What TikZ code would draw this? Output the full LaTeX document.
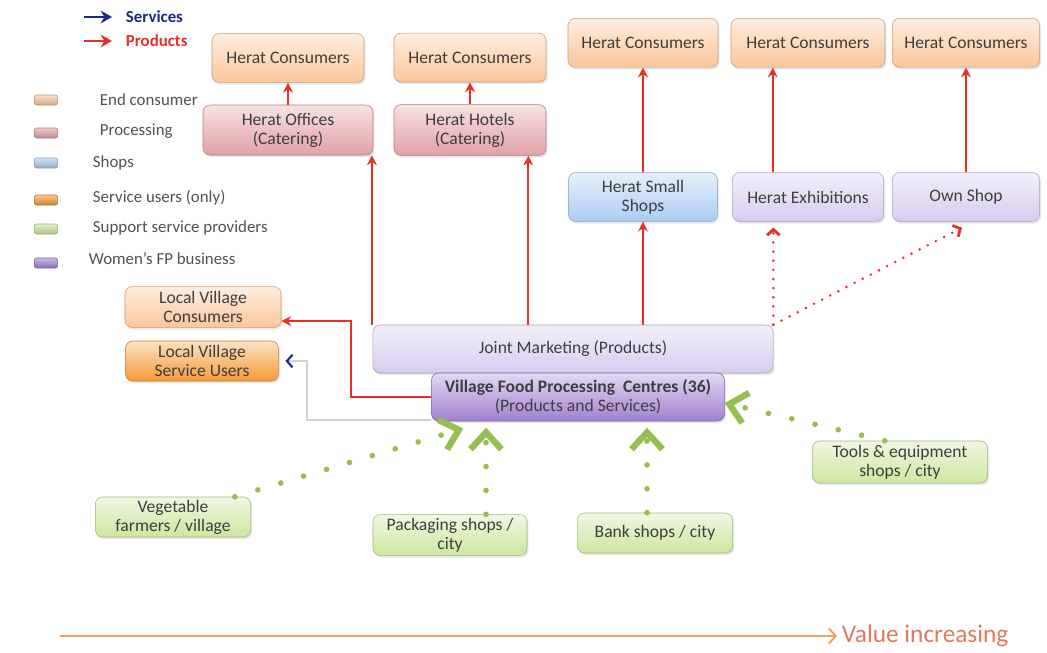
\documentclass[tikz,border=0pt]{standalone}
\usepackage{fontspec}
\setmainfont{Carlito}
\definecolor{EndCons}{RGB}{250,198,155}
\definecolor{Proc}{RGB}{226,160,165}
\definecolor{Shop}{RGB}{172,204,242}
\definecolor{SrvUser}{RGB}{247,155,55}
\definecolor{Support}{RGB}{205,230,160}
\definecolor{WomenFP}{RGB}{214,204,238}
\definecolor{WomenFPDark}{RGB}{160,128,208}
\definecolor{ProdRed}{RGB}{232,48,36}
\definecolor{ServBlue}{RGB}{28,40,140}
\definecolor{ServGray}{RGB}{205,210,220}
\definecolor{SuppGreen}{RGB}{150,190,80}
\definecolor{ValueLine}{RGB}{242,160,90}
\definecolor{ValueText}{RGB}{226,120,96}
\definecolor{BoxText}{RGB}{62,62,62}
\usepackage{tikz}
\usetikzlibrary{arrows.meta, positioning, calc, shadows}
\tikzset{
  box/.style={rectangle, rounded corners=5pt, draw=#1!80!black, top color=#1!30!white,
              bottom color=#1, drop shadow={opacity=0.2, shadow xshift=1pt, shadow yshift=-1.5pt},
              minimum width=3.8cm, minimum height=1.22cm, inner sep=2pt,
              font=\fontsize{12.5}{13.5}\selectfont, text=BoxText, align=center},
  swatch/.style={rectangle, rounded corners=1.5pt, draw=#1!75!black, top color=#1!55!white,
                 bottom color=#1!85!black, minimum width=0.58cm, minimum height=0.25cm, inner sep=0pt},
  legtext/.style={anchor=west, font=\fontsize{12}{14}\selectfont, text=BoxText!90!white},
  arr/.style={-{Stealth[length=7pt, width=7pt]}, line width=1.6pt, color=#1},
  legarr/.style={-{Stealth[length=8pt, width=9pt]}, line width=2pt, color=#1},
  dotarr/.style={-{Straight Barb[length=4pt, width=9pt]}, line width=2pt, color=#1,
                 dash pattern=on 0pt off 6.5pt, line cap=round},
  srvarr/.style={-{Straight Barb[length=4pt, width=9pt, color=ServBlue, line width=1.5pt]},
                 line width=1.2pt, color=ServGray},
  supparr/.style={-{Straight Barb[length=12pt, width=22pt, line width=4.5pt]}, line width=4pt,
                  color=SuppGreen, dash pattern=on 0pt off 17pt, line cap=round},
}
\begin{document}
\begin{tikzpicture}[x=0.025cm, y=-0.025cm]
  \useasboundingbox (0,0) rectangle (1047,652);

  % Legend
  \coordinate (srvA) at (84,17);  \coordinate (srvB) at (112,17);
  \coordinate (prdA) at (84,41);  \coordinate (prdB) at (112,41);
  \draw[legarr=ServBlue] (srvA) -- (srvB);
  \draw[legarr=ProdRed]  (prdA) -- (prdB);
  \node[legtext, font=\fontsize{12}{14}\selectfont\bfseries, text=ServBlue] (srvLbl) at (121,17) {Services};
  \node[legtext, font=\fontsize{12}{14}\selectfont\bfseries, text=ProdRed]  (prdLbl) at (121,41) {Products};

  \node[swatch=EndCons]     (swCons) at (46,100) {};
  \node[swatch=Proc]        (swProc) at (46,133) {};
  \node[swatch=Shop]        (swShop) at (46,163) {};
  \node[swatch=SrvUser]     (swUser) at (46,200) {};
  \node[swatch=Support]     (swSupp) at (46,229) {};
  \node[swatch=WomenFPDark] (swWomen) at (46,263) {};
  \node[legtext] (lgCons)  at (95,100) {End consumer};
  \node[legtext] (lgProc)  at (95,131) {Processing};
  \node[legtext] (lgShop)  at (88,163) {Shops};
  \node[legtext] (lgUser)  at (88,198) {Service users (only)};
  \node[legtext] (lgSupp)  at (88,228) {Support service providers};
  \node[legtext] (lgWomen) at (84,259) {Women's FP business};

  % Herat side
  \node[box=Proc, minimum width=4.25cm, minimum height=1.25cm] (offices) at (288,130)
        {Herat Offices\\(Catering)};
  \node[box=EndCons, above=0.55cm of offices] (hcA) {Herat Consumers};
  \node[box=Proc, minimum height=1.27cm] (hotels) at (470,130) {Herat Hotels\\(Catering)};
  \node[box=EndCons, above=0.55cm of hotels] (hcB) {Herat Consumers};

  \node[box=Shop, minimum width=3.72cm] (smallShops) at (643,197) {Herat Small\\Shops};
  \node[box=WomenFP, minimum width=3.78cm] (exhib) at (808,197) {Herat Exhibitions};
  \node[box=WomenFP, minimum width=3.68cm] (ownShop) at (966,197) {Own Shop};
  \node[box=EndCons, minimum width=3.75cm, above=2.62cm of smallShops] (hcC) {Herat Consumers};
  \node[box=EndCons, minimum width=3.85cm, above=2.62cm of exhib] (hcD) {Herat Consumers};
  \node[box=EndCons, minimum width=3.68cm, above=2.62cm of ownShop] (hcE) {Herat Consumers};

  % Village side
  \node[box=EndCons, minimum width=3.9cm, minimum height=1.02cm] (lvc) at (203,307)
        {Local Village\\Consumers};
  \node[box=SrvUser, minimum width=3.82cm, minimum height=1.0cm] (lvsu) at (202,361)
        {Local Village\\Service Users};
  \node[box=WomenFP, minimum width=10cm, minimum height=1.2cm] (jm) at (573,349)
        {Joint Marketing (Products)};
  \node[box=WomenFPDark, minimum width=7.32cm, minimum height=1.2cm] (vfpc) at (578,397)
        {\textbf{Village Food Processing\ \ Centres (36)}\\(Products and Services)};

  % Support service providers
  \node[box=Support, minimum width=3.88cm, minimum height=1.0cm] (veg) at (173,517)
        {Vegetable\\farmers / village};
  \node[box=Support, minimum width=3.85cm, minimum height=1.02cm] (pack) at (450,535)
        {Packaging shops /\\city};
  \node[box=Support, minimum width=3.88cm, minimum height=1.0cm] (bank) at (655,533)
        {Bank shops / city};
  \node[box=Support, minimum width=4.38cm, minimum height=1.05cm] (tools) at (900,462)
        {Tools \& equipment\\shops / city};

  % Products
  \draw[arr=ProdRed] (offices.north) -- (offices.north |- hcA.south);
  \draw[arr=ProdRed] (hotels.north) -- (hcB.south);
  \coordinate (offIn) at ([xshift=-1pt]offices.south east);
  \coordinate (hotIn) at ([xshift=-0.45cm]hotels.south east);
  \coordinate (exIn)  at ([xshift=-0.88cm]exhib.south);
  \draw[arr=ProdRed] (jm.north -| offIn) -- (offIn);
  \draw[arr=ProdRed] (jm.north -| hotIn) -- (hotIn);
  \draw[arr=ProdRed] (jm.north -| smallShops.south) -- (smallShops.south);
  \draw[arr=ProdRed] (smallShops.north) -- (hcC.south);
  \draw[arr=ProdRed] (exhib.north -| exIn) -- (hcD.south -| exIn);
  \draw[arr=ProdRed] (ownShop.north) -- (hcE.south);
  \draw[dotarr=ProdRed] (jm.north east) -- ([yshift=-0.15cm]jm.north east |- exhib.south);
  \draw[dotarr=ProdRed] (jm.north east) -- ([shift={(-0.1cm,-0.15cm)}]ownShop.south);
  \draw[arr=ProdRed] (vfpc.west) -- ++(-2cm,0) |- ([yshift=-0.35cm]lvc.east);

  % Services
  \draw[srvarr] ([yshift=1pt]vfpc.south west) -- ++(-3.1cm,0) |- ([xshift=0.17cm]lvsu.east);

  % Support services
  \coordinate (vegOut)  at ([xshift=-0.4cm]veg.north east);
  \coordinate (packOut) at ([xshift=0.9cm]pack.north);
  \coordinate (bankOut) at ([xshift=-0.2cm]bank.north);
  \coordinate (toolOut) at ([xshift=-0.38cm]tools.north);
  \coordinate (vfpcLow) at ([yshift=-0.16cm]vfpc.south);
  \draw[supparr] (vegOut) -- ([shift={(0.8cm,-0.18cm)}]vfpc.south west);
  \draw[supparr] (packOut) -- (vfpcLow -| packOut);
  \draw[supparr] (bankOut) -- (vfpcLow -| bankOut);
  \draw[supparr] (toolOut) -- ([yshift=-0.15cm]vfpc.east);

  % Value increasing
  \coordinate (valStart) at (60,636);
  \node[anchor=west, font=\fontsize{18}{20}\selectfont, text=ValueText] (valText) at (837,636)
        {Value increasing};
  \draw[-{Straight Barb[length=5pt, width=11pt]}, line width=1.3pt, ValueLine] (valStart) -- (valText.west);
\end{tikzpicture}
\end{document}
